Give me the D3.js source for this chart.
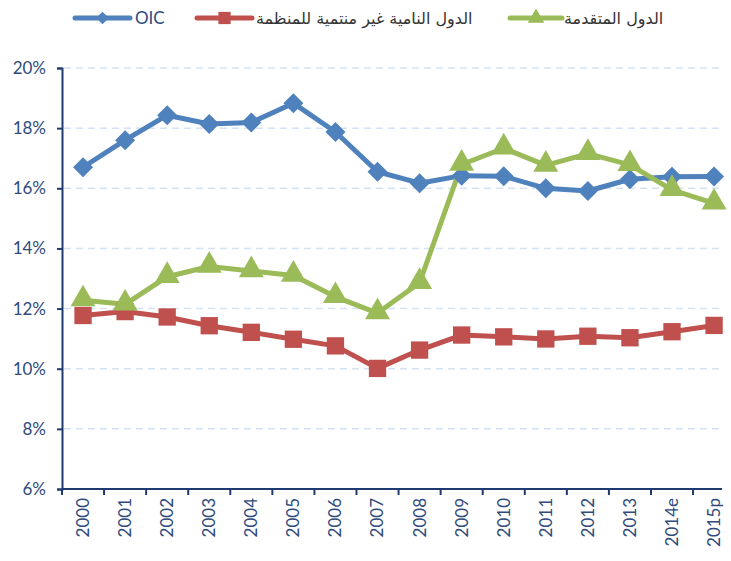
<!DOCTYPE html>
<html><head><meta charset="utf-8">
<script src="https://cdn.jsdelivr.net/npm/d3@7"></script>
<style>body{margin:0;background:#fff}svg{display:block}</style>
</head><body>
<svg id="c" width="731" height="561"></svg>
<script>
const years = ["2000","2001","2002","2003","2004","2005","2006","2007","2008","2009","2010","2011","2012","2013","2014e","2015p"];
const oic = [16.70,17.60,18.43,18.14,18.19,18.83,17.87,16.55,16.17,16.42,16.40,16.00,15.91,16.30,16.38,16.39];
const nonOic = [11.77,11.90,11.72,11.43,11.21,10.98,10.76,10.01,10.62,11.12,11.06,10.99,11.08,11.03,11.23,11.44];
const developed = [12.28,12.14,13.06,13.40,13.25,13.10,12.39,11.85,12.86,16.79,17.33,16.76,17.15,16.78,15.95,15.50];
const yTicks = [6,8,10,12,14,16,18,20];
const seriesNames = ["OIC","الدول النامية غير منتمية للمنظمة","الدول المتقدمة"];
const colors = ["#4F81BD","#C0504D","#9BBB59"];

(function(){
const svg = d3.select("#c");
const mLeft = 62, mTop = 68, mBottom = 489, step = 42.07;
const x = d3.scaleBand().domain(years).range([mLeft, mLeft + step*years.length]).paddingInner(0).paddingOuter(0);
const y = d3.scaleLinear().domain([6,20]).range([mBottom, mTop]);
const axisCol = "#1F3A6E", textCol = "#2F4B7C";
const font = "Lato, 'Open Sans', sans-serif";

// gridlines
svg.append("g").selectAll("line").data(yTicks.filter(d=>d>6)).join("line")
  .attr("x1", mLeft+2).attr("x2", 722).attr("y1", d=>y(d)).attr("y2", d=>y(d))
  .attr("stroke","#D6E2F3").attr("stroke-width",1.5).attr("stroke-dasharray","7,5");

// y axis
const ya = svg.append("g").attr("transform",`translate(${mLeft},0)`)
  .call(d3.axisLeft(y).tickValues(yTicks).tickFormat(d=>d+"%").tickSize(5).tickPadding(11));
ya.select(".domain").attr("stroke",axisCol).attr("stroke-width",2);
ya.selectAll(".tick line").attr("stroke",axisCol).attr("stroke-width",2);
ya.selectAll("text").attr("fill",textCol).attr("font-size",17).attr("font-family",font);

// x axis
const xa = svg.append("g").attr("transform",`translate(0,${mBottom})`)
  .call(d3.axisBottom(x).tickSize(0).tickFormat(d=>d));
xa.select(".domain").attr("d",`M${mLeft},0H722`).attr("stroke",axisCol).attr("stroke-width",2);
xa.selectAll("text").attr("fill",textCol).attr("font-size",17).attr("font-family",font)
  .attr("transform","rotate(-90)").attr("text-anchor","end").attr("x",-9).attr("y",0).attr("dy","0.35em");
svg.append("g").selectAll("line").data(years).join("line")
  .attr("x1",d=>x(d)).attr("x2",d=>x(d)).attr("y1",mBottom).attr("y2",mBottom+6)
  .attr("stroke",axisCol).attr("stroke-width",2);

const data = [oic, nonOic, developed];
const cx = i => x(years[i]) + x.bandwidth()/2;
const line = d3.line().x((d,i)=>cx(i)).y(d=>y(d));
const symbols = [d3.symbolSquare, d3.symbolSquare, d3.symbolTriangle];
const rot = [45, 0, 0];
const sizes = [200, 300, 270];

data.forEach((vals,k)=>{
  svg.append("path").datum(vals).attr("d",line).attr("fill","none")
    .attr("stroke",colors[k]).attr("stroke-width",5).attr("stroke-linejoin","round");
});
data.forEach((vals,k)=>{
  svg.append("g").selectAll("path").data(vals).join("path")
    .attr("d", d3.symbol().type(symbols[k]).size(sizes[k]))
    .attr("transform",(d,i)=>`translate(${cx(i)},${y(d) + (k===2?-1:0)}) rotate(${rot[k]})`)
    .attr("fill",colors[k]);
});

// legend
const legend = [
  {x1:75, x2:130, tx:135},
  {x1:197, x2:252, tx:256},
  {x1:510, x2:562, tx:564}
];
const ly = 18;
legend.forEach((l,k)=>{
  const g = svg.append("g");
  g.append("line").attr("x1",l.x1).attr("x2",l.x2).attr("y1",ly).attr("y2",ly)
    .attr("stroke",colors[k]).attr("stroke-width",5).attr("stroke-linecap","round");
  g.append("path").attr("d", d3.symbol().type(symbols[k]).size(k===0?80:k===1?150:120))
    .attr("transform",`translate(${(l.x1+l.x2)/2},${ly}) rotate(${rot[k]})`).attr("fill",colors[k]);
  g.append("text").attr("x",l.tx).attr("y",ly).attr("dy","0.35em")
    .attr("font-size", k===0?17:16).attr("font-family", k===0?font:"'DejaVu Sans', sans-serif")
    .attr("fill", k===0? textCol : "#333").attr("text-anchor","start")
    .text(seriesNames[k]);
});
})();
</script>
</body></html>
